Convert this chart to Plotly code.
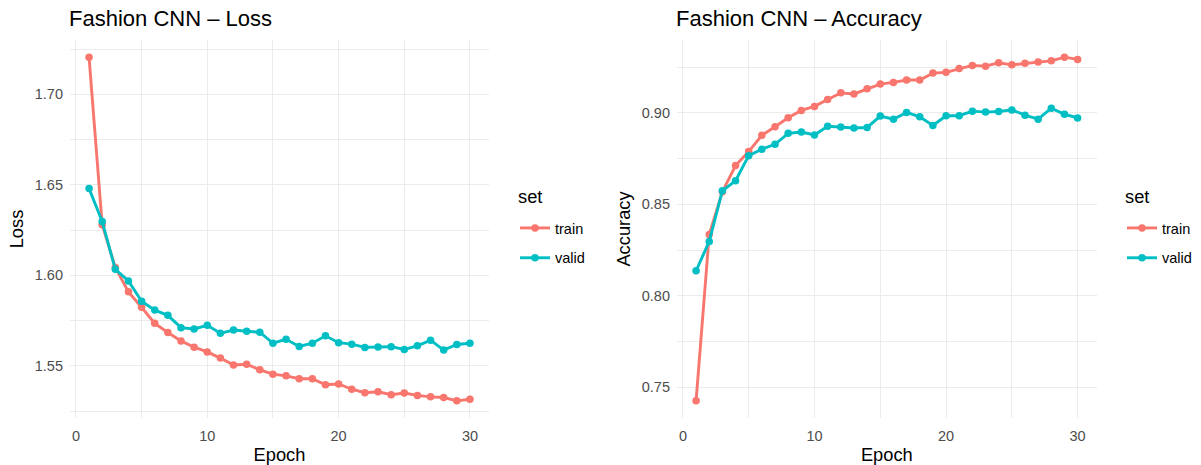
import plotly.graph_objects as go

epochs = list(range(1, 31))

loss_train = [1.7205, 1.6279, 1.6044, 1.5909, 1.5824, 1.5735, 1.5684, 1.5638, 1.5603, 1.5577,
              1.5543, 1.5505, 1.5509, 1.5478, 1.5454, 1.5445, 1.5429, 1.5429, 1.5396, 1.5400,
              1.5371, 1.5352, 1.5357, 1.5341, 1.5350, 1.5337, 1.5329, 1.5325, 1.5307, 1.5316]
loss_valid = [1.6480, 1.6297, 1.6033, 1.5969, 1.5857, 1.5808, 1.5779, 1.5711, 1.5704, 1.5724,
              1.5680, 1.5698, 1.5691, 1.5686, 1.5625, 1.5647, 1.5607, 1.5625, 1.5666, 1.5628,
              1.5620, 1.5602, 1.5604, 1.5606, 1.5591, 1.5611, 1.5642, 1.5587, 1.5618, 1.5625]

acc_train = [0.7426, 0.8335, 0.8569, 0.8712, 0.8788, 0.8877, 0.8924, 0.8973, 0.9013, 0.9035,
             0.9073, 0.9109, 0.9103, 0.9132, 0.9157, 0.9166, 0.9179, 0.9179, 0.9217, 0.9221,
             0.9242, 0.9259, 0.9255, 0.9273, 0.9262, 0.9271, 0.9277, 0.9284, 0.9304, 0.9292]
acc_valid = [0.8137, 0.8297, 0.8574, 0.8629, 0.8766, 0.8801, 0.8828, 0.8888, 0.8895, 0.8879,
             0.8926, 0.8922, 0.8917, 0.8920, 0.8982, 0.8965, 0.9002, 0.8978, 0.8931, 0.8984,
             0.8984, 0.9009, 0.9004, 0.9007, 0.9016, 0.8987, 0.8965, 0.9025, 0.8992, 0.8972]

set_names = ["train", "valid"]
colors = {"train": "#F8766D", "valid": "#00BFC4"}

W, H = 1201, 465
FONT = "Liberation Sans, Arial, Helvetica, sans-serif"


def expand(vals, frac=0.05):
    lo, hi = min(vals), max(vals)
    d = (hi - lo) * frac
    return [lo - d, hi + d]


fig = go.Figure()

panels = [
    ("x", "y", "legend", {"train": loss_train, "valid": loss_valid}),
    ("x2", "y2", "legend2", {"train": acc_train, "valid": acc_valid}),
]
for xa, ya, lg, series in panels:
    for s in set_names:
        fig.add_trace(go.Scatter(
            x=epochs, y=series[s], name=s, mode="lines+markers",
            line=dict(color=colors[s], width=2.9),
            marker=dict(color=colors[s], size=7.5),
            xaxis=xa, yaxis=ya, legend=lg, legendgroup=lg + s,
        ))

grid = "#EBEBEB"
tick_font = dict(family=FONT, size=14.5, color="#4D4D4D")
title_font = dict(family=FONT, size=18.3, color="#000000")

y_bot = 1 - 418 / H
y_top = 1 - 40 / H

common_x = dict(
    range=expand(epochs), tick0=0, dtick=10, showgrid=True, gridcolor=grid, gridwidth=1.2,
    zeroline=False, showline=False, ticks="", tickfont=tick_font, automargin=False,
    minor=dict(tick0=0, dtick=5, showgrid=True, gridcolor=grid, gridwidth=0.7),
    title=dict(text="Epoch", font=title_font, standoff=5),
    ticklabelstandoff=7,
)
common_y = dict(
    showgrid=True, gridcolor=grid, gridwidth=1.2, zeroline=False, showline=False,
    ticks="", tickfont=tick_font, tickformat=".2f", dtick=0.05, automargin=False,
    domain=[y_bot, y_top], ticklabelstandoff=6,
)

legend_font = dict(family=FONT, size=14.5, color="#000000")

fig.update_layout(
    width=W, height=H,
    margin=dict(l=0, r=0, t=0, b=0, autoexpand=False),
    paper_bgcolor="white", plot_bgcolor="white",
    font=dict(family=FONT),
    xaxis=dict(common_x, domain=[70 / W, 489 / W], anchor="y"),
    xaxis2=dict(common_x, domain=[677 / W, 1096.7 / W], anchor="y2"),
    yaxis=dict(common_y, range=expand(loss_train + loss_valid), tick0=1.55, anchor="x",
               minor=dict(tick0=1.525, dtick=0.05, showgrid=True, gridcolor=grid, gridwidth=0.7),
               title=dict(text="Loss", font=title_font, standoff=6)),
    yaxis2=dict(common_y, range=expand(acc_train + acc_valid), tick0=0.75, anchor="x2",
                minor=dict(tick0=0.725, dtick=0.05, showgrid=True, gridcolor=grid, gridwidth=0.7),
                title=dict(text="Accuracy", font=title_font, standoff=6)),
    legend=dict(x=515 / W, y=1 - 212 / H, xanchor="left", yanchor="top",
                font=legend_font, itemwidth=30, tracegroupgap=8, bgcolor="rgba(0,0,0,0)"),
    legend2=dict(x=1122 / W, y=1 - 212 / H, xanchor="left", yanchor="top",
                 font=legend_font, itemwidth=30, tracegroupgap=8, bgcolor="rgba(0,0,0,0)"),
    annotations=[
        dict(text="Fashion CNN – Loss", x=67 / W, y=1 - 4 / H, xref="paper", yref="paper",
             xanchor="left", yanchor="top", showarrow=False,
             font=dict(family=FONT, size=22, color="#000000")),
        dict(text="Fashion CNN – Accuracy", x=674 / W, y=1 - 4 / H, xref="paper", yref="paper",
             xanchor="left", yanchor="top", showarrow=False,
             font=dict(family=FONT, size=22, color="#000000")),
        dict(text="set", x=516 / W, y=1 - 197 / H, xref="paper", yref="paper",
             xanchor="left", yanchor="middle", showarrow=False, font=title_font),
        dict(text="set", x=1123 / W, y=1 - 197 / H, xref="paper", yref="paper",
             xanchor="left", yanchor="middle", showarrow=False, font=title_font),
    ],
)

fig.write_html(
    "out.html",
    config={"displayModeBar": False},
    post_script="document.body.style.margin='0';document.body.style.overflow='hidden';",
)
